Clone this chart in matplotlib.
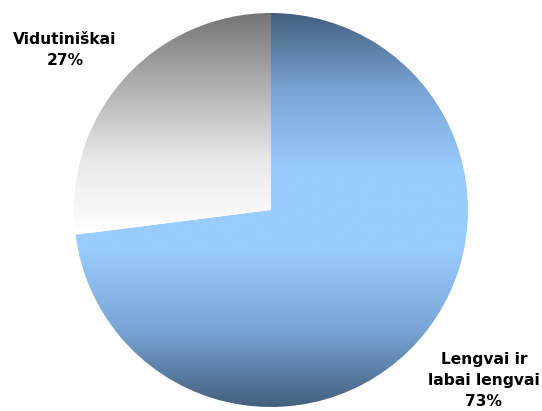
import numpy as np
import matplotlib
matplotlib.use('Agg')
import matplotlib.pyplot as plt
from matplotlib.colors import LinearSegmentedColormap

# Data
labels = ['Lengvai ir\nlabai lengvai\n73%', 'Vidutiniškai\n27%']
values = [73, 27]

fig = plt.figure(figsize=(5.42, 4.11), dpi=100)
ax = fig.add_axes([0, 0, 1, 1])

# pie in pixel-like coordinates
cx, cy, r = 271, 201, 197
wedges, _ = ax.pie(values, startangle=90, counterclock=False, radius=r,
                   center=(cx, cy), frame=True,
                   wedgeprops=dict(facecolor='none', edgecolor='none'))

# vertical gradients clipped to each wedge
blue = LinearSegmentedColormap.from_list(
    'blue', ['#44607f', '#7aa6d6', '#99ccff', '#99ccff', '#7aa6d6', '#44607f'])
gray = LinearSegmentedColormap.from_list(
    'gray', ['#747474', '#b0b0b0', '#e8e8e8', '#ffffff'])

grad = np.linspace(0, 1, 256).reshape(-1, 1)
im1 = ax.imshow(grad, cmap=blue, extent=(cx - r, cx + r, cy - r, cy + r),
                origin='lower', aspect='auto', interpolation='bilinear')
im1.set_clip_path(wedges[0])
im2 = ax.imshow(grad[::-1], cmap=gray, extent=(cx - r, cx + r, cy + r - 220, cy + r),
                origin='lower', aspect='auto', interpolation='bilinear')
im2.set_clip_path(wedges[1])

ax.set_xlim(0, 542)
ax.set_ylim(0, 411)
ax.set_aspect('equal')
ax.axis('off')

ax.text(484, 31, labels[0], ha='center', va='center', fontsize=11.2,
        fontweight='bold', linespacing=1.5)
ax.text(65, 361, labels[1], ha='center', va='center', fontsize=11.2,
        fontweight='bold', linespacing=1.5)

fig.savefig('out.png', dpi=100)
